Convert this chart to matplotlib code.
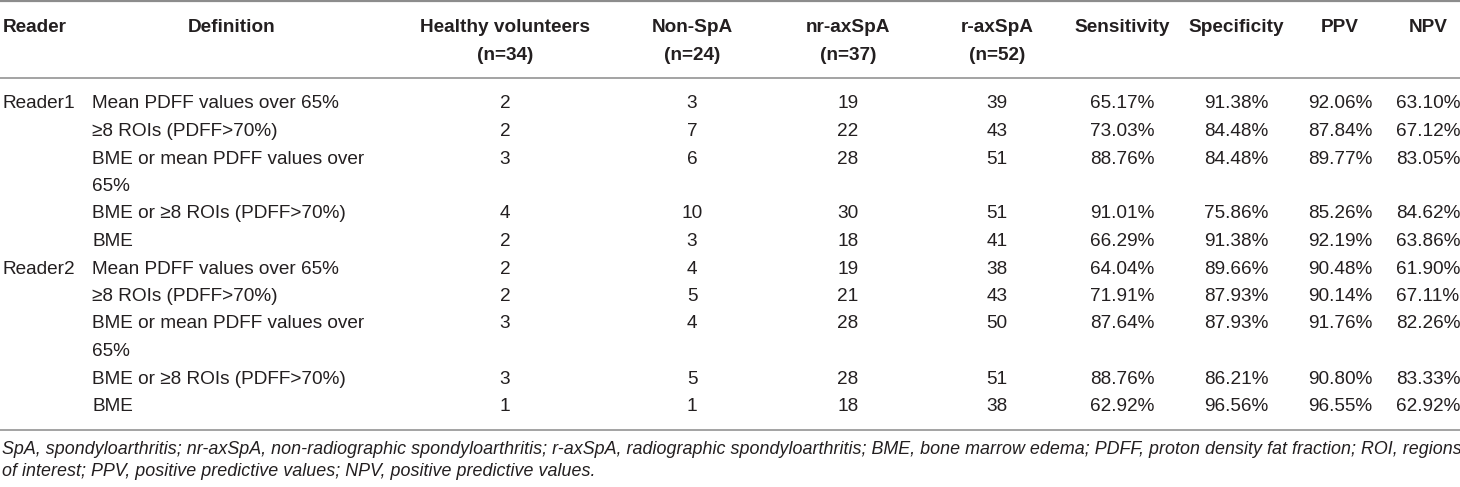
import matplotlib
matplotlib.use("Agg")
import matplotlib.pyplot as plt

plt.rcParams['font.family'] = ['Liberation Sans', 'DejaVu Sans']

# header texts, one per column
headers = ["Reader", "Definition", "Healthy volunteers\n(n=34)", "Non-SpA\n(n=24)",
           "nr-axSpA\n(n=37)", "r-axSpA\n(n=52)", "Sensitivity", "Specificity", "PPV", "NPV"]

readers = ["Reader1", "", "", "", "", "Reader2", "", "", "", ""]
definitions = ["Mean PDFF values over 65%", "\u22658 ROIs (PDFF>70%)",
               "BME or mean PDFF values over\n65%", "BME or \u22658 ROIs (PDFF>70%)", "BME",
               "Mean PDFF values over 65%", "\u22658 ROIs (PDFF>70%)",
               "BME or mean PDFF values over\n65%", "BME or \u22658 ROIs (PDFF>70%)", "BME"]
healthy = [2, 2, 3, 4, 2, 2, 2, 3, 3, 1]
non_spa = [3, 7, 6, 10, 3, 4, 5, 4, 5, 1]
nr_axspa = [19, 22, 28, 30, 18, 19, 21, 28, 28, 18]
r_axspa = [39, 43, 51, 51, 41, 38, 43, 50, 51, 38]
sensitivity = ["65.17%", "73.03%", "88.76%", "91.01%", "66.29%",
               "64.04%", "71.91%", "87.64%", "88.76%", "62.92%"]
specificity = ["91.38%", "84.48%", "84.48%", "75.86%", "91.38%",
               "89.66%", "87.93%", "87.93%", "86.21%", "96.56%"]
ppv = ["92.06%", "87.84%", "89.77%", "85.26%", "92.19%",
       "90.48%", "90.14%", "91.76%", "90.80%", "96.55%"]
npv = ["63.10%", "67.12%", "83.05%", "84.62%", "63.86%",
       "61.90%", "67.11%", "82.26%", "83.33%", "62.92%"]

footnote = ("SpA, spondyloarthritis; nr-axSpA, non-radiographic spondyloarthritis; r-axSpA, "
            "radiographic spondyloarthritis; BME, bone marrow edema; PDFF, proton density fat fraction; ROI, regions\n"
            "of interest; PPV, positive predictive values; NPV, positive predictive values.")

W, H = 1460, 487
fig = plt.figure(figsize=(W / 100, H / 100), dpi=100)
ax = fig.add_axes([0, 0, 1, 1])
ax.set_xlim(0, W)
ax.set_ylim(H, 0)
ax.axis('off')

txt = '#231f20'
line_c = '#a3a3a3'
fs = 13.7
step = 27.5

# column centres of the count / percentage columns
xc = [505, 692, 848, 997, 1122, 1236, 1340, 1428]

# header
ax.text(3, 28, headers[0], ha='left', va='center', fontsize=fs, fontweight='bold', color=txt)
ax.text(188, 28, headers[1], ha='left', va='center', fontsize=fs, fontweight='bold', color=txt)
for x, h in zip(xc, headers[2:]):
    for k, p in enumerate(h.split("\n")):
        ax.text(x, 28 + k * step, p, ha='center', va='center', fontsize=fs,
                fontweight='bold', color=txt)

ax.axhline(1, color='#8c8c8c', lw=1.6)
ax.axhline(78, color=line_c, lw=1.4)

# body
y = 104
cols = [healthy, non_spa, nr_axspa, r_axspa, sensitivity, specificity, ppv, npv]
for i in range(len(definitions)):
    ax.text(3, y, readers[i], ha='left', va='center', fontsize=fs, color=txt)
    parts = definitions[i].split("\n")
    for k, p in enumerate(parts):
        ax.text(92, y + k * step, p, ha='left', va='center', fontsize=fs, color=txt)
    for x, col in zip(xc, cols):
        ax.text(x, y, str(col[i]), ha='center', va='center', fontsize=fs, color=txt)
    y += step * len(parts)

ax.axhline(430, color=line_c, lw=1.4)

for k, p in enumerate(footnote.split("\n")):
    ax.text(2, 450 + k * 21, p, ha='left', va='center', fontsize=12.85, style='italic', color=txt)

fig.savefig("out.png", dpi=100)
